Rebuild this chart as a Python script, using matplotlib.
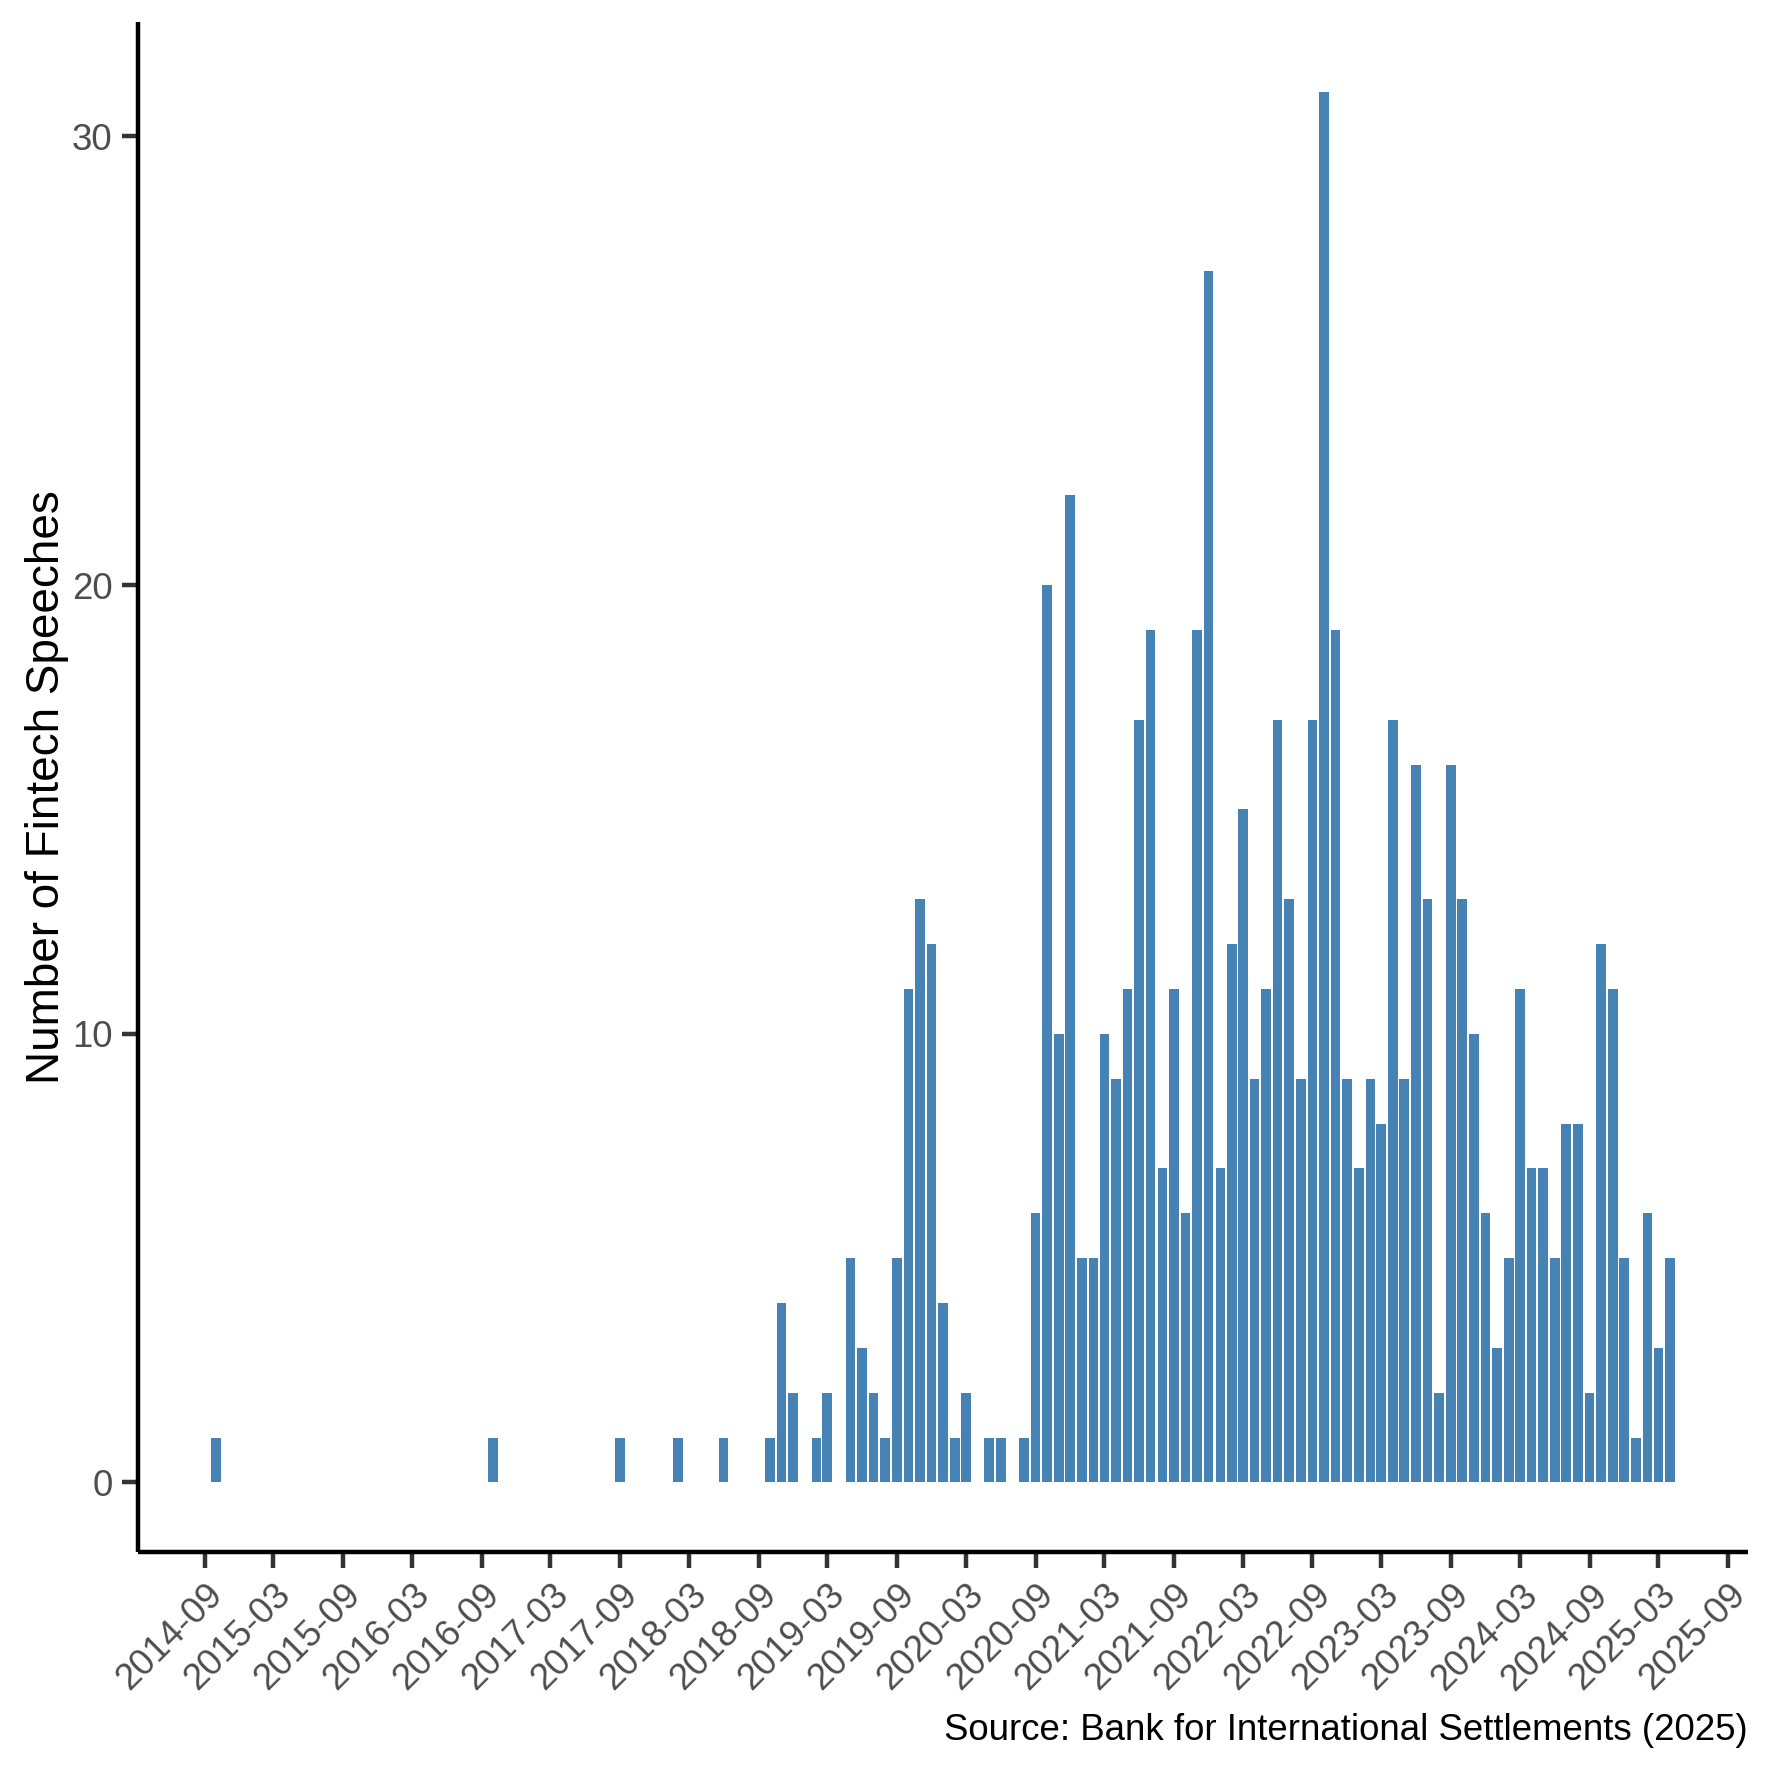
import matplotlib

matplotlib.use("Agg")
import matplotlib.dates as mdates
import matplotlib.pyplot as plt
import pandas as pd

# Monthly counts of fintech speeches (months without speeches are absent)
SPARSE_MONTHS = [
    "2014-10", "2016-10", "2017-09", "2018-02", "2018-06", "2018-10",
    "2018-11", "2018-12", "2019-02", "2019-03", "2019-05", "2019-06",
    "2019-07", "2019-08", "2019-09", "2019-10", "2019-11", "2019-12",
    "2020-01", "2020-02", "2020-03", "2020-05", "2020-06", "2020-08",
]
SPARSE_COUNTS = [1, 1, 1, 1, 1, 1, 4, 2, 1, 2, 5, 3, 2, 1, 5, 11, 13, 12,
                 4, 1, 2, 1, 1, 1]

# every month from 2020-09 to 2025-04 has speeches
DENSE_START, DENSE_END = "2020-09", "2025-04"
DENSE_COUNTS = [
    6, 20, 10, 22,
    5, 5, 10, 9, 11, 17, 19, 7, 11, 6, 19, 27,
    7, 12, 15, 9, 11, 17, 13, 9, 17, 31, 19, 9,
    7, 9, 8, 17, 9, 16, 13, 2, 16, 13, 10, 6,
    3, 5, 11, 7, 7, 5, 8, 8, 2, 12, 11, 5,
    1, 6, 3, 5,
]

TICK_START, TICK_END = "2014-09", "2025-09"
BAR_COLOR = "#4682B4"
CAPTION = "Source: Bank for International Settlements (2025)"
YLABEL = "Number of Fintech Speeches"

W = 1771  # output size in pixels
PANEL_L, PANEL_R, PANEL_T, PANEL_B = 138, 1748, 22, 1552


def main() -> None:
    plt.rcParams["font.family"] = ["Liberation Sans", "DejaVu Sans"]

    dates = list(pd.to_datetime(SPARSE_MONTHS)) + list(
        pd.date_range(DENSE_START, DENSE_END, freq="MS"))
    counts = SPARSE_COUNTS + DENSE_COUNTS
    x = mdates.date2num(dates)

    width = 0.9 * 28  # days, like ggplot's default bar width for dates

    fig = plt.figure(figsize=(W / 300, W / 300), dpi=300)
    ax = fig.add_axes([PANEL_L / W, 1 - PANEL_B / W,
                       (PANEL_R - PANEL_L) / W, (PANEL_B - PANEL_T) / W])
    ax.bar(x, counts, width=width, color=BAR_COLOR, linewidth=0)

    lo, hi = x.min() - width / 2, x.max() + width / 2
    pad = 0.05 * (hi - lo)
    ax.set_xlim(lo - pad, hi + pad)
    ymax = max(counts)
    ax.set_ylim(-0.05 * ymax, ymax * 1.05)

    ticks = pd.date_range(TICK_START, TICK_END, freq="6MS")
    ax.set_xticks(mdates.date2num(ticks))
    ax.set_xticklabels([t.strftime("%Y-%m") for t in ticks], rotation=45,
                       ha="right", va="top", rotation_mode="anchor")
    ax.set_yticks([0, 10, 20, 30])

    for side in ("top", "right"):
        ax.spines[side].set_visible(False)
    for side in ("left", "bottom"):
        ax.spines[side].set_linewidth(1.07)
        ax.spines[side].set_color("black")
        ax.spines[side].set_capstyle("butt")
    ax.tick_params(axis="both", length=3.9, width=1.07, color="#333333",
                   labelcolor="#4D4D4D", labelsize=8.8, pad=2.2)

    ax.set_ylabel(YLABEL, fontsize=11, color="black", labelpad=0.8)
    fig.text(PANEL_R / W, 23 / W, CAPTION, ha="right", va="bottom",
             fontsize=8.8, color="black")

    fig.savefig("out.png", dpi=300, facecolor="white")


if __name__ == "__main__":
    main()
